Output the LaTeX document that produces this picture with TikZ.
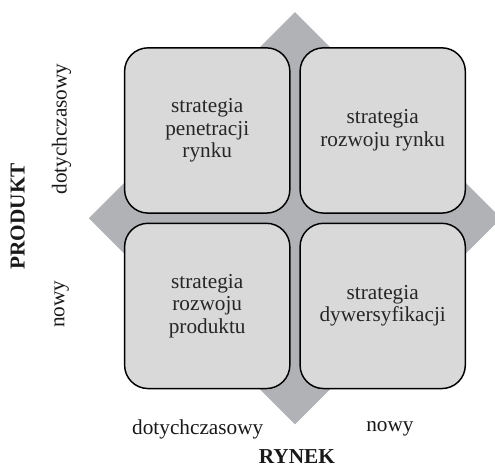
\documentclass[tikz,border=0pt]{standalone}
\usepackage{fontspec}
\setmainfont{Liberation Serif}
\usepackage{xcolor}
\usepackage{tikz}
\usetikzlibrary{positioning}

\definecolor{diamondgray}{RGB}{177,178,182}
\definecolor{boxgray}{RGB}{217,217,217}

\tikzset{
  quadbox/.style={draw=black, line width=1.1pt, fill=boxgray, rounded corners=0.62cm,
    minimum width=4.37cm, minimum height=4.37cm, align=center, text=black!85,
    font=\fontsize{16}{17}\selectfont},
  axislabel/.style={font=\fontsize{16}{17}\selectfont, text=black!90},
  axistitle/.style={font=\fontsize{16}{17}\selectfont\bfseries, text=black!90, inner sep=1pt}
}

\begin{document}
\begin{tikzpicture}
  \useasboundingbox (-7.80,-6.56) rectangle (5.29,5.77);
  \fill[diamondgray] (0,5.45) -- (5.45,0) -- (0,-5.45) -- (-5.45,0) -- cycle;
  \node[quadbox] (penetracja) at (-2.32,2.32) {strategia\\penetracji\\rynku};
  \node[quadbox] (rozwojrynku) at (2.32,2.32) {strategia\\rozwoju rynku};
  \node[quadbox] (rozwojproduktu) at (-2.32,-2.32) {strategia\\rozwoju\\produktu};
  \node[quadbox] (dywersyfikacja) at (2.32,-2.32) {strategia\\dywersyfikacji};
  % market axis
  \node[axislabel] (rynekstary) at (-2.57,-5.58) {dotychczasowy};
  \node[axislabel] (rynekNowy) at (2.51,-5.58) {nowy};
  \node[axistitle] (rynek) at (0.05,-6.30) {RYNEK};
  % product axis
  \node[axislabel, rotate=90] (produktstary) at (-6.17,2.36) {dotychczasowy};
  \node[axislabel, rotate=90] (produktnowy) at (-6.17,-2.27) {nowy};
  \node[axistitle, rotate=90] (produkt) at (-7.33,0.05) {PRODUKT};
\end{tikzpicture}
\end{document}
